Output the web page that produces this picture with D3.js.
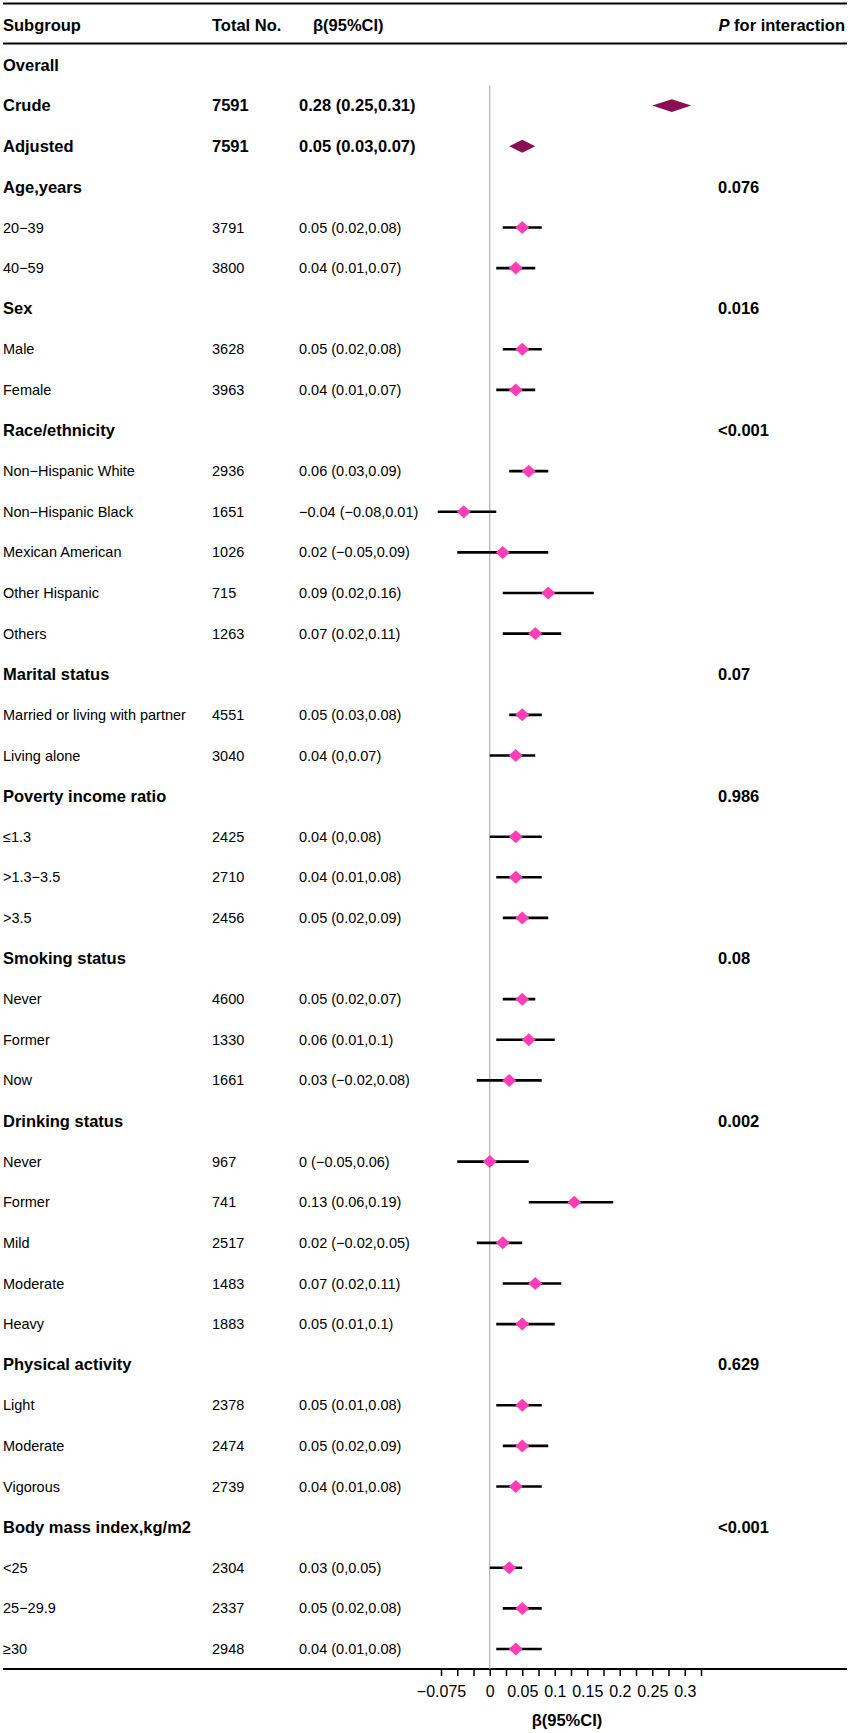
<!DOCTYPE html>
<html>
<head>
<meta charset="utf-8">
<script src="https://cdn.jsdelivr.net/npm/d3@7"></script>
<style>
  body { margin: 0; background: #fff; }
  text { font-family: "Liberation Sans", Arial, sans-serif; fill: #000; }
</style>
</head>
<body>
<svg id="chart" width="850" height="1733"></svg>
<script>
  // ------------------------------------------------------------
  // Data
  // ------------------------------------------------------------
  // kind: "head" = bold group title, "overall" = bold row with dark diamond, "sub" = normal row
  const labels = [
    "Overall", "Crude", "Adjusted",
    "Age,years", "20\u221239", "40\u221259",
    "Sex", "Male", "Female",
    "Race/ethnicity", "Non\u2212Hispanic White", "Non\u2212Hispanic Black", "Mexican American", "Other Hispanic", "Others",
    "Marital status", "Married or living with partner", "Living alone",
    "Poverty income ratio", "\u22641.3", ">1.3\u22123.5", ">3.5",
    "Smoking status", "Never", "Former", "Now",
    "Drinking status", "Never", "Former", "Mild", "Moderate", "Heavy",
    "Physical activity", "Light", "Moderate", "Vigorous",
    "Body mass index,kg/m2", "<25", "25\u221229.9", "\u226530"
  ];
  const kinds = [
    "head", "overall", "overall",
    "head", "sub", "sub",
    "head", "sub", "sub",
    "head", "sub", "sub", "sub", "sub", "sub",
    "head", "sub", "sub",
    "head", "sub", "sub", "sub",
    "head", "sub", "sub", "sub",
    "head", "sub", "sub", "sub", "sub", "sub",
    "head", "sub", "sub", "sub",
    "head", "sub", "sub", "sub"
  ];
  const totals = [
    null, 7591, 7591,
    null, 3791, 3800,
    null, 3628, 3963,
    null, 2936, 1651, 1026, 715, 1263,
    null, 4551, 3040,
    null, 2425, 2710, 2456,
    null, 4600, 1330, 1661,
    null, 967, 741, 2517, 1483, 1883,
    null, 2378, 2474, 2739,
    null, 2304, 2337, 2948
  ];
  const beta = [
    null, 0.28, 0.05,
    null, 0.05, 0.04,
    null, 0.05, 0.04,
    null, 0.06, -0.04, 0.02, 0.09, 0.07,
    null, 0.05, 0.04,
    null, 0.04, 0.04, 0.05,
    null, 0.05, 0.06, 0.03,
    null, 0, 0.13, 0.02, 0.07, 0.05,
    null, 0.05, 0.05, 0.04,
    null, 0.03, 0.05, 0.04
  ];
  const lower = [
    null, 0.25, 0.03,
    null, 0.02, 0.01,
    null, 0.02, 0.01,
    null, 0.03, -0.08, -0.05, 0.02, 0.02,
    null, 0.03, 0,
    null, 0, 0.01, 0.02,
    null, 0.02, 0.01, -0.02,
    null, -0.05, 0.06, -0.02, 0.02, 0.01,
    null, 0.01, 0.02, 0.01,
    null, 0, 0.02, 0.01
  ];
  const upper = [
    null, 0.31, 0.07,
    null, 0.08, 0.07,
    null, 0.08, 0.07,
    null, 0.09, 0.01, 0.09, 0.16, 0.11,
    null, 0.08, 0.07,
    null, 0.08, 0.08, 0.09,
    null, 0.07, 0.1, 0.08,
    null, 0.06, 0.19, 0.05, 0.11, 0.1,
    null, 0.08, 0.09, 0.08,
    null, 0.05, 0.08, 0.08
  ];
  const pInteraction = [
    null, null, null,
    "0.076", null, null,
    "0.016", null, null,
    "<0.001", null, null, null, null, null,
    "0.07", null, null,
    "0.986", null, null, null,
    "0.08", null, null, null,
    "0.002", null, null, null, null, null,
    "0.629", null, null, null,
    "<0.001", null, null, null
  ];
  const tickValues = d3.range(17).map(i => +(-0.075 + i * 0.025).toFixed(3));
  const tickLabels = [-0.075, 0, 0.05, 0.1, 0.15, 0.2, 0.25, 0.3];

  // ------------------------------------------------------------
  // Helpers
  // ------------------------------------------------------------
  function fmt(v) {
    return String(v).replace("-", "\u2212");
  }
  function ciText(i) {
    return fmt(beta[i]) + " (" + fmt(lower[i]) + "," + fmt(upper[i]) + ")";
  }

  const svg = d3.select("#chart");
  const W = 850;
  const colSub = 3, colN = 212, colBeta = 299, colP = 718;
  const boldSize = 16.5, normSize = 14.5;

  const rows = labels.map((l, i) => ({
    i, label: l, kind: kinds[i], n: totals[i], b: beta[i], lo: lower[i], hi: upper[i], p: pInteraction[i]
  }));

  const y = d3.scaleLinear().domain([0, rows.length - 1]).range([65, 1649]);
  const x = d3.scaleLinear().domain([-0.075, 0.325]).range([441, 701]);
  const axisY = 1669;

  // ------------------------------------------------------------
  // Rules
  // ------------------------------------------------------------
  [3.5, 43.5, axisY].forEach(ry => {
    svg.append("line").attr("x1", 3).attr("x2", W - 3).attr("y1", ry).attr("y2", ry)
      .attr("stroke", "#000").attr("stroke-width", 2);
  });

  // Header
  const header = svg.append("g").attr("font-weight", "bold").attr("font-size", boldSize);
  header.append("text").attr("x", colSub).attr("y", 25).attr("dy", "0.35em").text("Subgroup");
  header.append("text").attr("x", colN).attr("y", 25).attr("dy", "0.35em").text("Total No.");
  header.append("text").attr("x", 313).attr("y", 25).attr("dy", "0.35em").text("\u03b2(95%CI)");
  const ph = header.append("text").attr("x", W - 5).attr("y", 25).attr("dy", "0.35em").attr("text-anchor", "end");
  ph.append("tspan").attr("font-style", "italic").text("P");
  ph.append("tspan").text(" for interaction");

  // ------------------------------------------------------------
  // Table text
  // ------------------------------------------------------------
  const rowG = svg.append("g").selectAll("g.row").data(rows).enter()
    .append("g").attr("class", "row")
    .attr("transform", d => `translate(0,${y(d.i)})`)
    .attr("font-weight", d => d.kind === "sub" ? "normal" : "bold")
    .attr("font-size", d => d.kind === "sub" ? normSize : boldSize);

  rowG.append("text").attr("x", colSub).attr("dy", "0.35em").text(d => d.label);
  rowG.filter(d => d.n != null).append("text").attr("x", colN).attr("dy", "0.35em").text(d => d.n);
  rowG.filter(d => d.b != null).append("text").attr("x", colBeta).attr("dy", "0.35em").text(d => ciText(d.i));
  rowG.filter(d => d.p != null).append("text").attr("x", colP).attr("dy", "0.35em").text(d => d.p);

  // ------------------------------------------------------------
  // Plot
  // ------------------------------------------------------------
  svg.append("line").attr("x1", x(0)).attr("x2", x(0)).attr("y1", y(1) - 20).attr("y2", axisY)
    .attr("stroke", "#b0b0b0").attr("stroke-width", 1.2);

  const est = rows.filter(d => d.b != null);

  // overall diamonds span the CI
  svg.append("g").selectAll("path").data(est.filter(d => d.kind === "overall")).enter()
    .append("path")
    .attr("d", d => {
      const cy = y(d.i), h = 6.4;
      return `M${x(d.lo)},${cy}L${x(d.b)},${cy - h}L${x(d.hi)},${cy}L${x(d.b)},${cy + h}Z`;
    })
    .attr("fill", "#8a0f52");

  const subs = est.filter(d => d.kind === "sub");
  svg.append("g").selectAll("line").data(subs).enter()
    .append("line")
    .attr("x1", d => x(d.lo)).attr("x2", d => x(d.hi))
    .attr("y1", d => y(d.i)).attr("y2", d => y(d.i))
    .attr("stroke", "#000").attr("stroke-width", 2.6);

  svg.append("g").selectAll("path").data(subs).enter()
    .append("path")
    .attr("d", d => {
      const cx = x(d.b), cy = y(d.i), w = 7, h = 6.5;
      return `M${cx - w},${cy}L${cx},${cy - h}L${cx + w},${cy}L${cx},${cy + h}Z`;
    })
    .attr("fill", "#ff3db4");

  // ------------------------------------------------------------
  // Axis: every 0.025 a tick, labels only on the printed values
  // ------------------------------------------------------------
  const ticks = svg.append("g").attr("transform", `translate(0,${axisY})`)
    .call(d3.axisBottom(x).tickValues(tickValues).tickSize(7).tickFormat(""));
  ticks.select(".domain").remove();
  ticks.selectAll(".tick line").attr("stroke", "#000").attr("stroke-width", 1.5);

  const lab = svg.append("g").attr("transform", `translate(0,${axisY + 14})`)
    .call(d3.axisBottom(x).tickValues(tickLabels).tickSize(0).tickFormat(d => fmt(d)));
  lab.select(".domain").remove();
  lab.selectAll(".tick text")
    .attr("font-family", "Liberation Sans, Arial, sans-serif")
    .attr("font-size", 16).attr("fill", "#000");

  svg.append("text").attr("x", 567).attr("y", 1720).attr("dy", "0.35em")
    .attr("text-anchor", "middle").attr("font-weight", "bold").attr("font-size", boldSize)
    .text("\u03b2(95%CI)");
</script>
</body>
</html>
